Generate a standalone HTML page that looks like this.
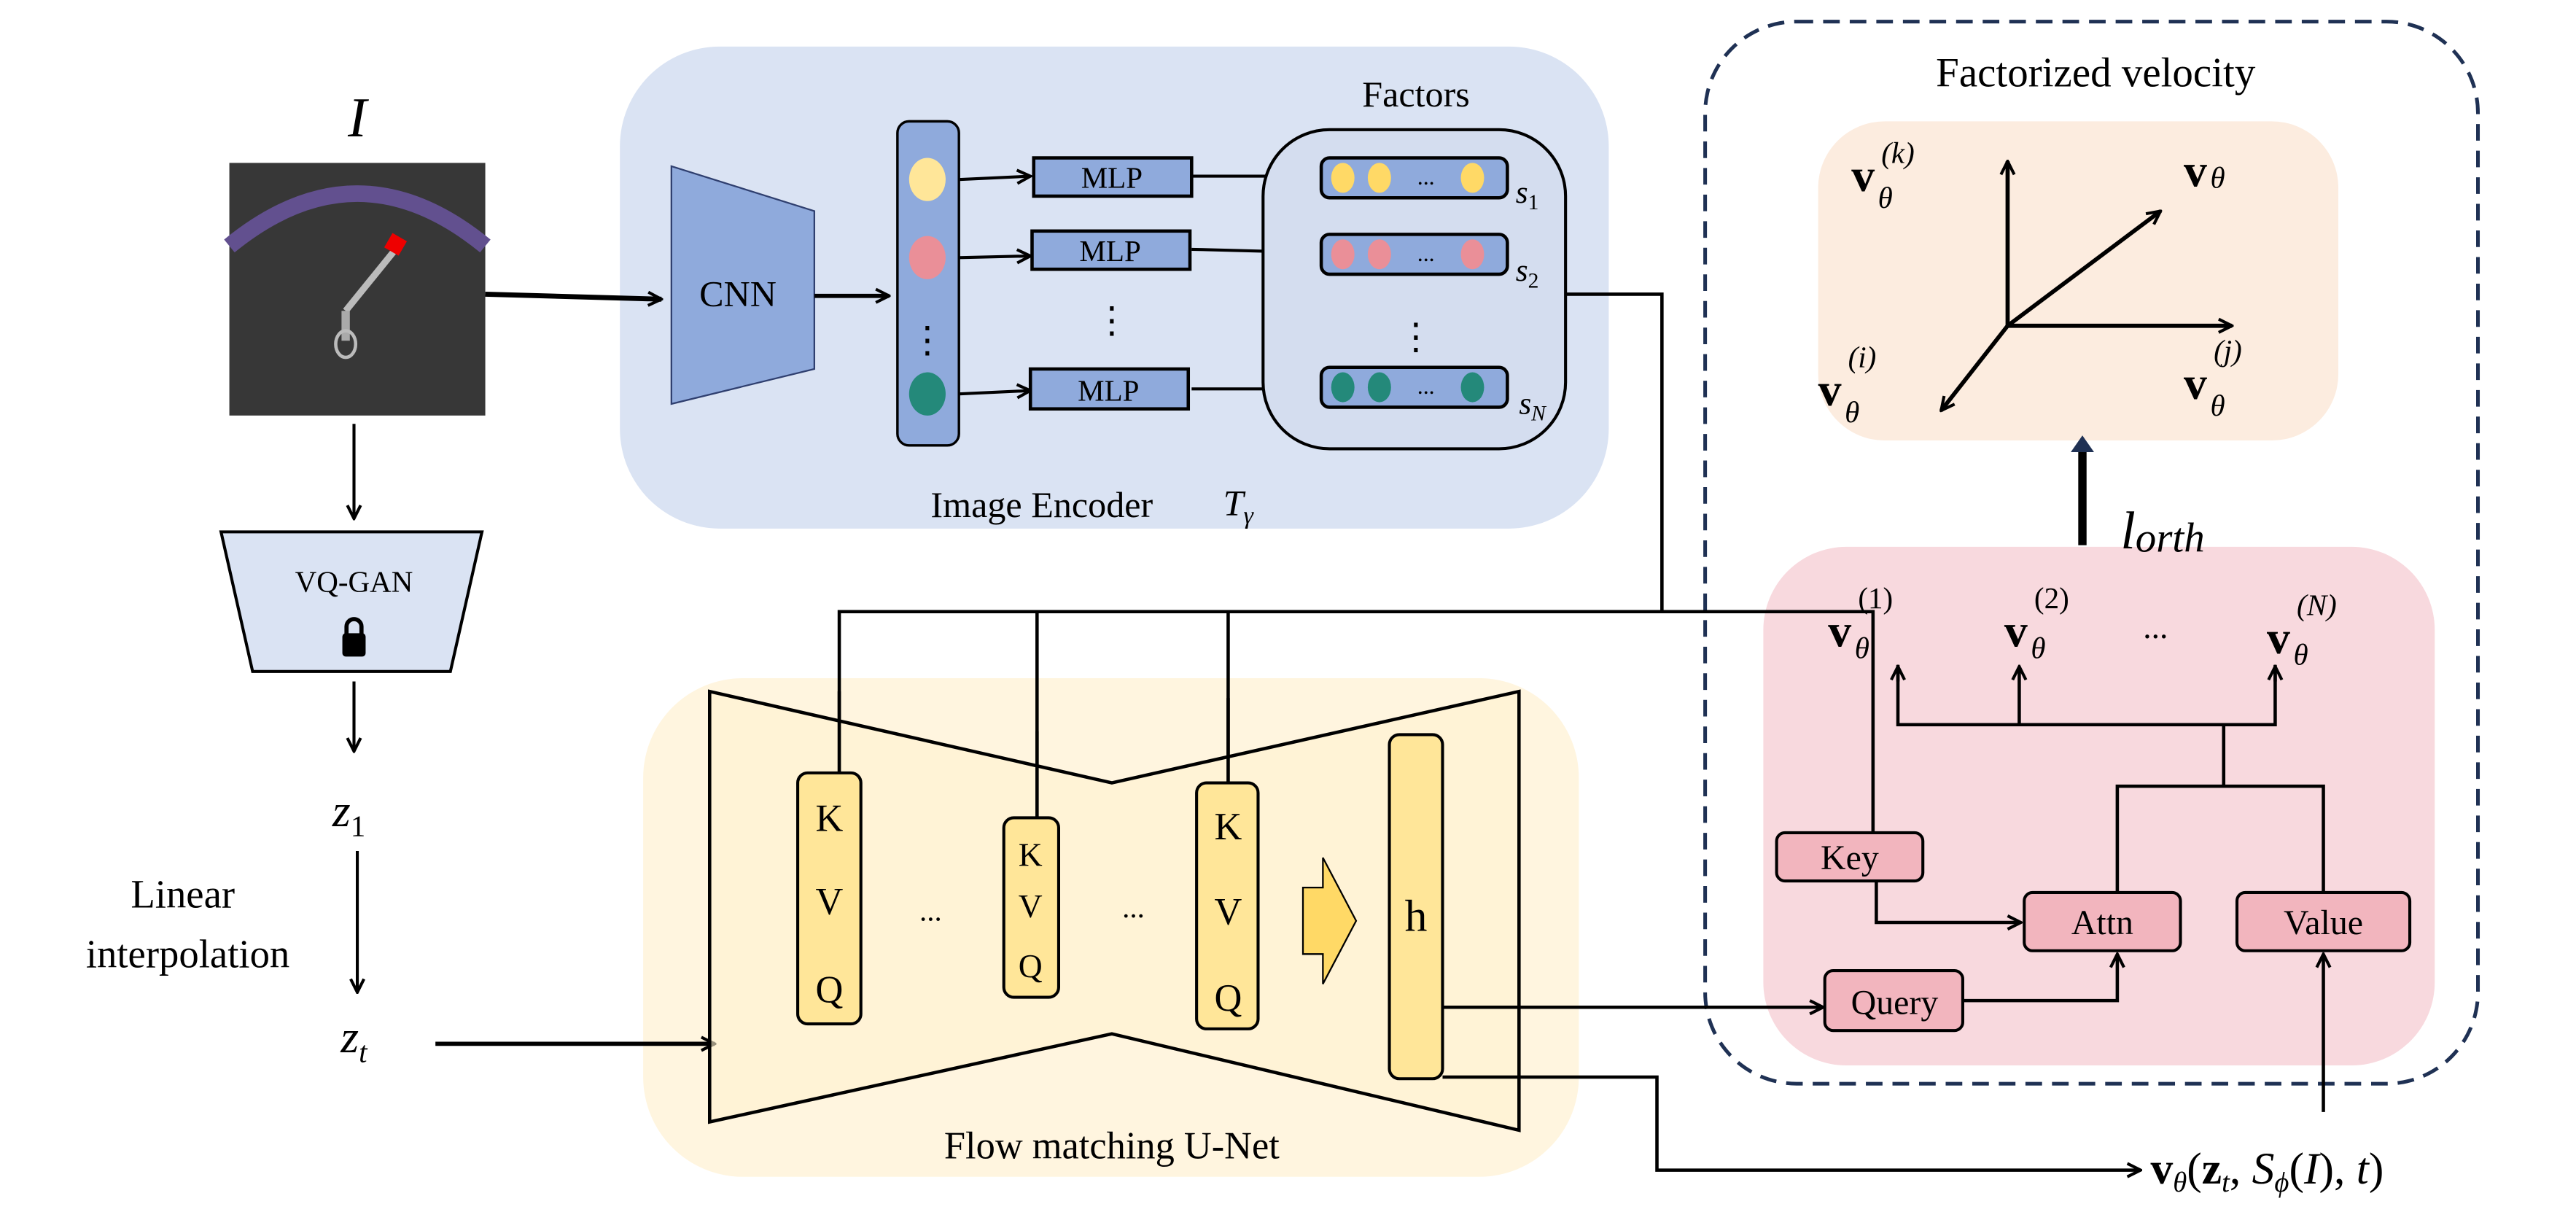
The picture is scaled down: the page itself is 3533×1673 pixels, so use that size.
<!DOCTYPE html>
<html><head><meta charset="utf-8"><style>
html,body{margin:0;padding:0;background:#fff;}
svg{display:block;}
text{font-family:"Liberation Serif",serif;fill:#000;}
</style></head><body>
<svg width="3533" height="1673" viewBox="0 0 1550 734" preserveAspectRatio="none" xmlns="http://www.w3.org/2000/svg">
<defs>
<marker id="a" markerWidth="10" markerHeight="10" refX="9" refY="5" orient="auto" markerUnits="userSpaceOnUse">
<polyline points="1,1 9,5 1,9" fill="none" stroke="#000" stroke-width="1.8"/></marker>
</defs>
<g fill="none" stroke="#000">
<rect x="373" y="28" width="595" height="290" rx="60" fill="#dae3f3" stroke="none"/>
<rect x="387" y="408" width="563" height="300" rx="60" fill="#fff5df" stroke="none"/>
<rect x="1061" y="329" width="404" height="312" rx="50" fill="#f8d9de" stroke="none"/>
<rect x="1094" y="73" width="313" height="192" rx="40" fill="#fcecdf" stroke="none"/>
<rect x="1026" y="13" width="465" height="639" rx="55" stroke="#1f3154" stroke-width="2.2" stroke-dasharray="10,6"/>
</g>
<rect x="138" y="98" width="154" height="152" fill="#373737"/>
<path d="M138,148 Q215,85 292,148" stroke="#62508f" stroke-width="10" fill="none"/>
<line x1="208" y1="187" x2="238" y2="150" stroke="#bbb" stroke-width="4"/>
<rect x="233" y="142" width="10" height="10" fill="#e00" transform="rotate(30 238 147)"/>
<line x1="208" y1="187" x2="208" y2="205" stroke="#aaa" stroke-width="5"/>
<ellipse cx="208" cy="207" rx="6" ry="8" fill="none" stroke="#bbb" stroke-width="2"/>
<text x="215" y="82" font-size="34" font-style="italic" text-anchor="middle">I</text>
<line x1="292" y1="177" x2="398" y2="180" stroke="#000" stroke-width="3" marker-end="url(#a)"/>
<polygon points="404,100 490,127 490,222 404,243" fill="#8faadc" stroke="#2f3f6f" stroke-width="1"/>
<text x="444" y="184" font-size="22" text-anchor="middle">CNN</text>
<line x1="490" y1="178" x2="535" y2="178" stroke="#000" stroke-width="2.5" marker-end="url(#a)"/>
<rect x="540" y="73" width="37" height="195" rx="7" fill="#8faadc" stroke="#000" stroke-width="1.5"/>
<ellipse cx="558" cy="108" rx="11" ry="13" fill="#ffe699"/>
<ellipse cx="558" cy="155" rx="11" ry="13" fill="#ea8f98"/>
<ellipse cx="558" cy="237" rx="11" ry="13" fill="#24897a"/>
<text x="558" y="212" font-size="22" text-anchor="middle">⋮</text>
<g stroke="#000" stroke-width="1.8" fill="none">
<line x1="577" y1="108" x2="620" y2="106" marker-end="url(#a)"/>
<line x1="577" y1="155" x2="620" y2="154" marker-end="url(#a)"/>
<line x1="577" y1="237" x2="620" y2="235" marker-end="url(#a)"/>
<line x1="717" y1="106" x2="794" y2="106" marker-end="url(#a)"/>
<line x1="717" y1="150" x2="794" y2="152" marker-end="url(#a)"/>
<line x1="717" y1="234" x2="794" y2="234" marker-end="url(#a)"/>
</g>
<g fill="#8faadc" stroke="#000" stroke-width="2">
<rect x="622" y="95" width="95" height="23"/>
<rect x="621" y="139" width="95" height="23"/>
<rect x="620" y="222" width="95" height="24"/>
</g>
<g font-size="18" text-anchor="middle"><text x="669" y="113">MLP</text><text x="668" y="157">MLP</text><text x="667" y="241">MLP</text></g>
<text x="669" y="200" font-size="22" text-anchor="middle">⋮</text>
<text x="852" y="64" font-size="22" text-anchor="middle">Factors</text>
<rect x="760" y="78" width="182" height="192" rx="40" fill="#d4ddef" stroke="#000" stroke-width="1.8"/>
<g fill="#8faadc" stroke="#000" stroke-width="2">
<rect x="795" y="95" width="112" height="24" rx="5"/>
<rect x="795" y="141" width="112" height="24" rx="5"/>
<rect x="795" y="221" width="112" height="24" rx="5"/>
</g>
<g><ellipse cx="808" cy="107" rx="7" ry="9" fill="#ffd966"/><ellipse cx="830" cy="107" rx="7" ry="9" fill="#ffd966"/><ellipse cx="886" cy="107" rx="7" ry="9" fill="#ffd966"/>
<ellipse cx="808" cy="153" rx="7" ry="9" fill="#ea8f98"/><ellipse cx="830" cy="153" rx="7" ry="9" fill="#ea8f98"/><ellipse cx="886" cy="153" rx="7" ry="9" fill="#ea8f98"/>
<ellipse cx="808" cy="233" rx="7" ry="9" fill="#24897a"/><ellipse cx="830" cy="233" rx="7" ry="9" fill="#24897a"/><ellipse cx="886" cy="233" rx="7" ry="9" fill="#24897a"/></g>
<g font-size="14" text-anchor="middle"><text x="858" y="111">...</text><text x="858" y="157">...</text><text x="858" y="237">...</text></g>
<text x="852" y="210" font-size="22" text-anchor="middle">⋮</text>
<g font-size="19" font-style="italic"><text x="912" y="122">s<tspan font-size="13" dy="4" font-style="normal">1</tspan></text><text x="912" y="169">s<tspan font-size="13" dy="4" font-style="normal">2</tspan></text><text x="914" y="249">s<tspan font-size="13" dy="4">N</tspan></text></g>
<text x="560" y="311" font-size="22">Image Encoder</text>
<text x="736" y="310" font-size="22" font-style="italic">T<tspan font-size="15" dy="5">γ</tspan></text>
<g stroke="#000" stroke-width="2" fill="none">
<polyline points="942,177 1000,177 1000,368"/>
<polyline points="505,472 505,368 1127,368 1127,509" marker-end="url(#a)"/>
<line x1="624" y1="368" x2="624" y2="492"/>
<line x1="739" y1="368" x2="739" y2="471"/>
</g>
<line x1="213" y1="255" x2="213" y2="312" stroke="#000" stroke-width="1.8" marker-end="url(#a)"/>
<polygon points="133,320 290,320 271,404 152,404" fill="#dae3f3" stroke="#000" stroke-width="1.8"/>
<text x="213" y="356" font-size="18" text-anchor="middle">VQ-GAN</text>
<rect x="206" y="381" width="14" height="14" rx="2" fill="#000"/>
<path d="M208.5,382 v-5 a4.5,4.5 0 0 1 9,0 v5" fill="none" stroke="#000" stroke-width="2.5"/>
<line x1="213" y1="410" x2="213" y2="452" stroke="#000" stroke-width="1.8" marker-end="url(#a)"/>
<text x="200" y="497" font-size="28" font-style="italic">z<tspan font-size="18" dy="6" font-style="normal">1</tspan></text>
<line x1="215" y1="512" x2="215" y2="597" stroke="#000" stroke-width="1.8" marker-end="url(#a)"/>
<text x="110" y="546" font-size="24" text-anchor="middle">Linear</text>
<text x="113" y="582" font-size="24" text-anchor="middle">interpolation</text>
<text x="205" y="633" font-size="28" font-style="italic">z<tspan font-size="18" dy="6">t</tspan></text>
<line x1="262" y1="628" x2="430" y2="628" stroke="#000" stroke-width="2.5" marker-end="url(#a)"/>
<polygon points="427,416 669,471 914,416 914,680 669,622 427,675" fill="#fff2d0" fill-opacity="0.6" stroke="#000" stroke-width="2"/>
<g stroke="#000" stroke-width="2"><line x1="505" y1="416" x2="505" y2="466"/><line x1="624" y1="440" x2="624" y2="492"/><line x1="739" y1="420" x2="739" y2="471"/></g>
<g fill="#ffe699" stroke="#000" stroke-width="1.8">
<rect x="480" y="465" width="38" height="151" rx="6"/>
<rect x="604" y="492" width="33" height="108" rx="6"/>
<rect x="720" y="471" width="37" height="148" rx="6"/>
<rect x="836" y="442" width="32" height="207" rx="6"/>
</g>
<g font-size="23" text-anchor="middle">
<text x="499" y="500">K</text><text x="499" y="550">V</text><text x="499" y="603">Q</text>
<text x="620" y="521" font-size="20">K</text><text x="620" y="552" font-size="20">V</text><text x="620" y="588" font-size="20">Q</text>
<text x="739" y="505">K</text><text x="739" y="556">V</text><text x="739" y="608">Q</text>
<text x="852" y="560" font-size="27">h</text>
</g>
<g font-size="18" text-anchor="middle"><text x="560" y="554">...</text><text x="682" y="552">...</text></g>
<polygon points="784,534 796,534 796,516 816,554 796,592 796,574 784,574" fill="#ffd966" stroke="#000" stroke-width="1"/>
<text x="669" y="697" font-size="23" text-anchor="middle">Flow matching U-Net</text>
<g stroke="#000" stroke-width="2" fill="none">
<line x1="868" y1="606" x2="1097" y2="606" marker-end="url(#a)"/>
<polyline points="868,648 997,648 997,704 1288,704" marker-end="url(#a)"/>
</g>
<text x="1261" y="52" font-size="25" text-anchor="middle">Factorized velocity</text>
<g stroke="#000" stroke-width="2.5" fill="none">
<line x1="1208" y1="196" x2="1208" y2="97" marker-end="url(#a)"/>
<line x1="1208" y1="196" x2="1343" y2="196" marker-end="url(#a)"/>
<line x1="1208" y1="196" x2="1300" y2="127" marker-end="url(#a)"/>
<line x1="1208" y1="196" x2="1168" y2="247" marker-end="url(#a)"/>
</g>
<g font-size="28" font-weight="bold">
<text x="1114" y="115">v</text><text x="1314" y="112">v</text><text x="1094" y="244">v</text><text x="1314" y="240">v</text>
</g>
<g font-size="18" font-style="italic">
<text x="1130" y="125">θ</text><text x="1132" y="98">(k)</text>
<text x="1330" y="113">θ</text>
<text x="1110" y="254">θ</text><text x="1112" y="221">(i)</text>
<text x="1330" y="250">θ</text><text x="1332" y="217">(j)</text>
</g>
<line x1="1253" y1="328" x2="1253" y2="266" stroke="#000" stroke-width="5"/>
<polygon points="1246,272 1253,262 1260,272" fill="#1f3154"/>
<text x="1276" y="330" font-size="32" font-style="italic">l<tspan font-size="25" dy="2">orth</tspan></text>
<g font-size="28" font-weight="bold">
<text x="1100" y="389">v</text><text x="1206" y="389">v</text><text x="1364" y="393">v</text></g>
<g font-size="18" font-style="italic">
<text x="1116" y="396">θ</text><text x="1118" y="366" font-style="normal">(1)</text>
<text x="1222" y="396">θ</text><text x="1224" y="366" font-style="normal">(2)</text>
<text x="1380" y="400">θ</text><text x="1382" y="370">(N)</text></g>
<text x="1297" y="384" font-size="20" text-anchor="middle">...</text>
<g stroke="#000" stroke-width="2" fill="none">
<polyline points="1142,400 1142,436 1369,436 1369,400"/>
<line x1="1142" y1="410" x2="1142" y2="401" marker-end="url(#a)"/>
<line x1="1215" y1="436" x2="1215" y2="401" marker-end="url(#a)"/>
<line x1="1369" y1="410" x2="1369" y2="401" marker-end="url(#a)"/>
<polyline points="1338,436 1338,473"/>
<polyline points="1274,537 1274,473 1398,473 1398,537"/>
<polyline points="1129,530 1129,555 1216,555" marker-end="url(#a)"/>
<polyline points="1181,602 1274,602 1274,574" marker-end="url(#a)"/>
<line x1="1398" y1="669" x2="1398" y2="574" marker-end="url(#a)"/>
</g>
<g fill="#f2b5be" stroke="#000" stroke-width="1.8">
<rect x="1069" y="501" width="88" height="29" rx="5"/>
<rect x="1218" y="537" width="94" height="35" rx="5"/>
<rect x="1346" y="537" width="104" height="35" rx="5"/>
<rect x="1098" y="584" width="83" height="36" rx="5"/>
</g>
<g font-size="21" text-anchor="middle"><text x="1113" y="523">Key</text><text x="1265" y="562">Attn</text><text x="1398" y="562">Value</text><text x="1140" y="610">Query</text></g>
<text x="1294" y="712" font-size="27"><tspan font-weight="bold">v</tspan><tspan font-size="17" font-style="italic" dy="5">θ</tspan><tspan dy="-5">(</tspan><tspan font-weight="bold">z</tspan><tspan font-size="17" font-style="italic" dy="5">t</tspan><tspan dy="-5">, </tspan><tspan font-style="italic">S</tspan><tspan font-size="17" font-style="italic" dy="5">ϕ</tspan><tspan dy="-5">(</tspan><tspan font-style="italic">I</tspan><tspan>), </tspan><tspan font-style="italic">t</tspan><tspan>)</tspan></text>
</svg>
</body></html>
